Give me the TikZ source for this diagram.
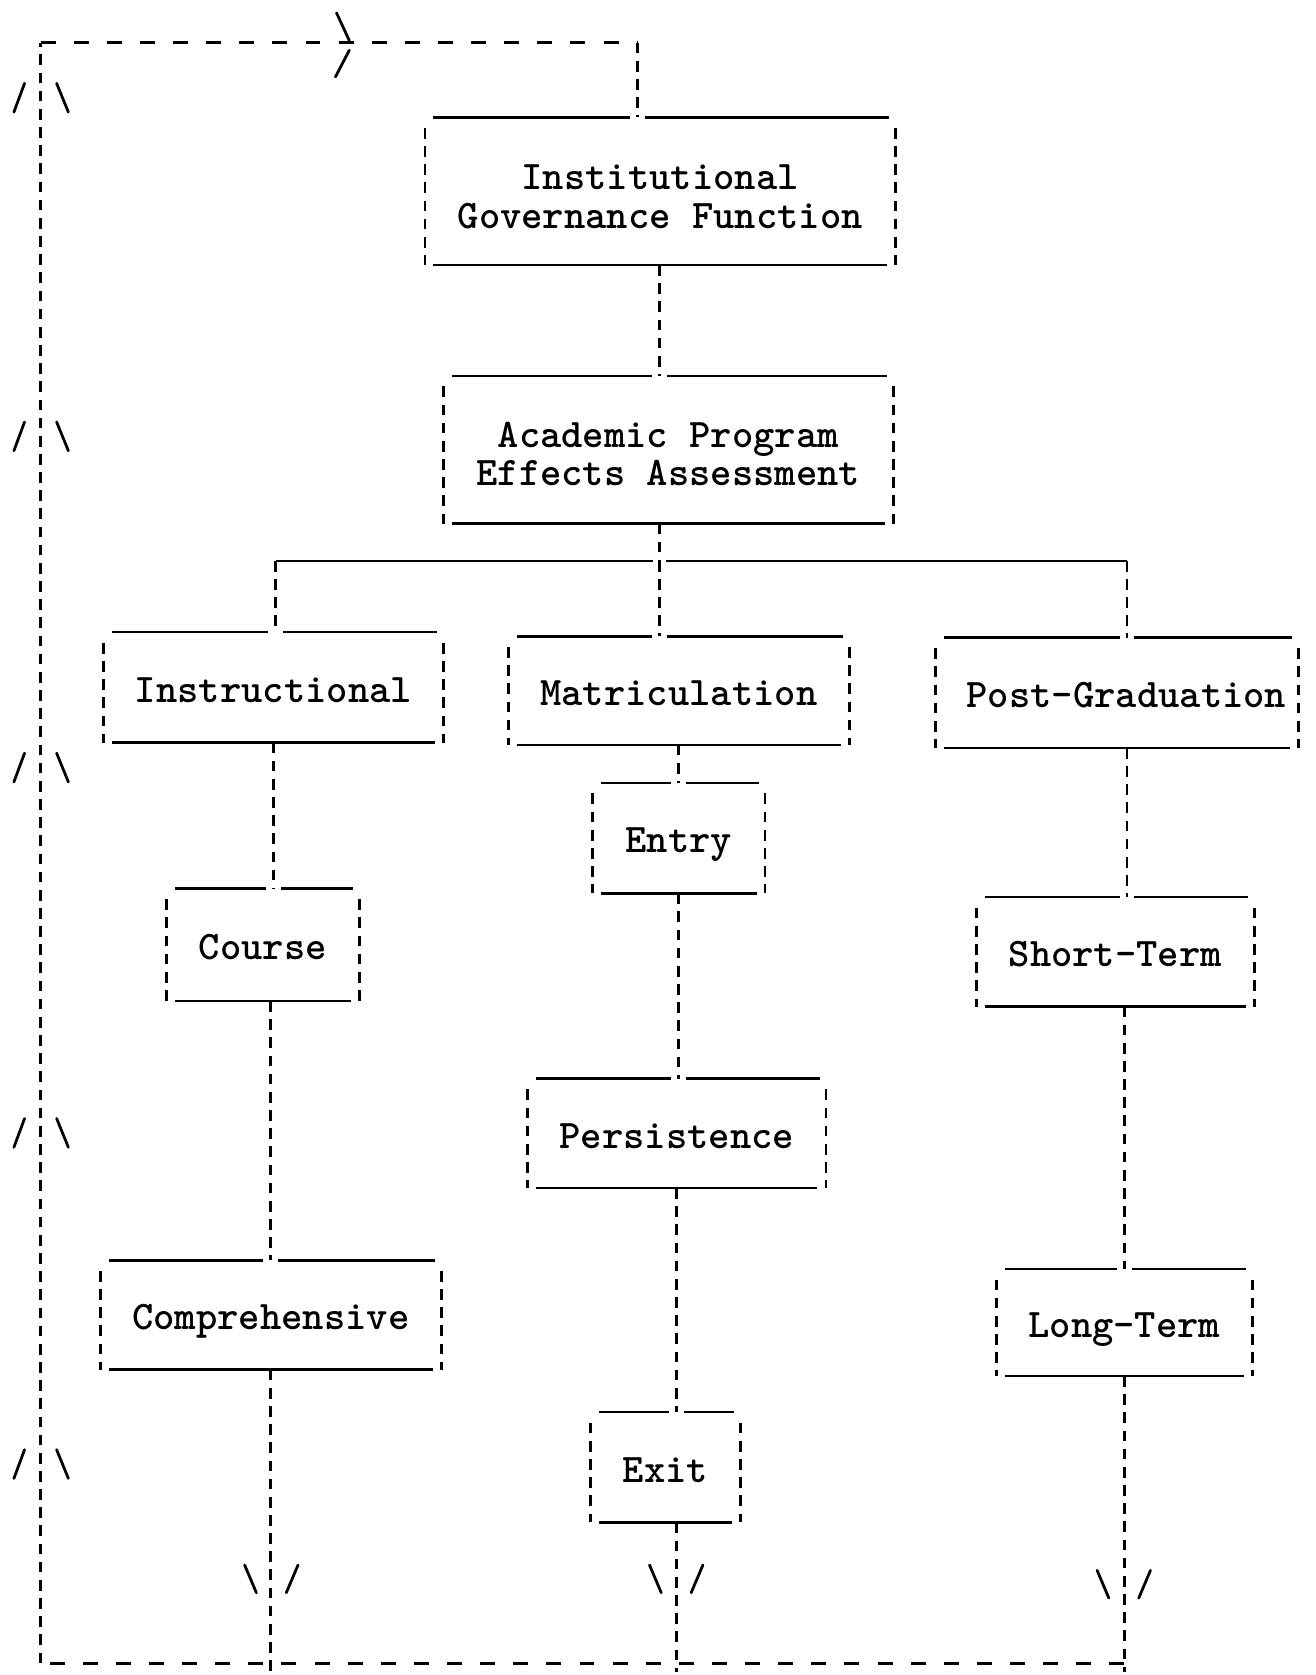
\documentclass[tikz,border=0pt]{standalone}
\usepackage{fontspec}
\newcommand\tbx[2]{%
  \coordinate (gap) at (#2,0);
  \draw[side] ([yshift=-10pt]#1.north west) -- (#1.south west);
  \draw[side] ([yshift=-10pt]#1.north east) -- (#1.south east);
  \draw[rule] ([xshift=8pt]#1.north west) -- ([xshift=-7pt]gap |- #1.north);
  \draw[rule] ([xshift=7pt]gap |- #1.north) -- ([xshift=-6pt]#1.north east);
  \draw[rule] ([xshift=8pt]#1.south west) -- ([xshift=-8pt]#1.south east);
}
\begin{document}
\begin{tikzpicture}[x=1pt,y=-1pt,
  every node/.style={font=\ttfamily\bfseries\fontsize{38}{36}\selectfont},
  bx/.style={draw=none, inner sep=0pt, align=center},
  one/.style={bx, text height=28pt, text depth=0pt},
  side/.style={line width=2.6pt, dash pattern=on 10pt off 7pt},
  rule/.style={line width=2.4pt},
  conn/.style={line width=2.6pt, dash pattern=on 10pt off 7pt},
  hconn/.style={line width=2.6pt, dash pattern=on 14pt off 17pt},
  tick/.style={line width=2.6pt, line cap=round}]
\useasboundingbox (0,0) rectangle (1231,1568);

% boxes
\node[bx, minimum width=440pt, minimum height=138pt] (gov) at (618,179) {\rule{0pt}{34pt}Institutional\\Governance Function};
\node[bx, minimum width=421pt, minimum height=138pt] (ape) at (625.5,421) {\rule{0pt}{32pt}Academic Program\\Effects Assessment};
\node[one, minimum width=318pt, minimum height=103pt] (ins) at (256,643.5) {Instructional};
\node[one, minimum width=319pt, minimum height=101pt] (mat) at (635.5,646.5) {Matriculation};
\node[one, minimum width=339pt, minimum height=103pt] (pg) at (1045.5,648.5) {\hspace*{18pt}Post-Graduation};
\node[one, minimum width=180pt, minimum height=105pt] (course) at (246,884.5) {Course};
\node[one, minimum width=319pt, minimum height=102pt] (comp) at (253.5,1231) {Comprehensive};
\node[one, minimum width=161pt, minimum height=103pt] (entry) at (635.5,784.5) {Entry};
\node[one, minimum width=279pt, minimum height=102pt] (pers) at (633.5,1061) {Persistence};
\node[one, minimum width=140pt, minimum height=103pt] (exit) at (623,1373.5) {Exit};
\node[one, minimum width=260pt, minimum height=102pt] (st) at (1044,891) {Short-Term};
\node[one, minimum width=239pt, minimum height=100pt] (lt) at (1052.5,1238) {Long-Term};

\tbx{gov}{597}
\tbx{ape}{617}
\tbx{ins}{258}
\tbx{mat}{617}
\tbx{pg}{1055}
\tbx{course}{256}
\tbx{comp}{253.5}
\tbx{entry}{635.5}
\tbx{pers}{635.5}
\tbx{exit}{633.5}
\tbx{st}{1055}
\tbx{lt}{1052.5}

% coordinates
\coordinate (bar) at (617,525);
\coordinate (barL) at (258,525);
\coordinate (barR) at (1055,525);
\coordinate (bot) at (0,1565);
\coordinate (fbBL) at (38,1557);
\coordinate (fbTL) at (38,40);
\coordinate (fbTR) at (597,40);

% connectors
\draw[conn] ([xshift=-1pt]gov.south) -- ([xshift=-8.5pt]ape.north);
\draw[conn] ([xshift=-8.5pt]ape.south) -- (bar);
\draw[rule] (barL) -- ([xshift=-6pt]bar);
\draw[rule] ([xshift=6pt]bar) -- (barR);
\draw[conn] (barL) -- (barL |- ins.north);
\draw[conn] (bar) -- (bar |- mat.north);
\draw[conn] (barR) -- (barR |- pg.north);

\draw[conn] (ins.south) -- (ins.south |- course.north);
\draw[conn] (comp.north |- course.south) -- (comp.north);
\draw[conn] (comp.south) -- (comp.south |- bot);

\draw[conn] (entry.north |- mat.south) -- (entry.north);
\draw[conn] (entry.south) -- (entry.south |- pers.north);
\draw[conn] (pers.south) -- (pers.south |- exit.north);
\draw[conn] (pers.south |- exit.south) -- (pers.south |- bot);

\draw[conn] (barR |- pg.south) -- (barR |- st.north);
\draw[conn] (lt.north |- st.south) -- (lt.north);
\draw[conn] (lt.south) -- (lt.south |- bot);

% feedback loop
\draw[hconn] (lt.south |- fbBL) -- (fbBL);
\draw[conn] (fbBL) -- (fbTL);
\draw[hconn] (fbTL) -- (fbTR);
\draw[conn] (fbTR) -- (fbTR |- gov.north);

% arrow marks
\foreach \yc in {91,408,718,1060,1370}{
  \draw[tick] (13,\yc+14) -- (23,\yc-13);
  \draw[tick] (53,\yc-13) -- (64,\yc+14);
}
\foreach \cx/\yt in {254/1465,633/1465,1052/1470}{
  \draw[tick] (\cx-25,\yt) -- (\cx-14,\yt+26);
  \draw[tick] (\cx+25,\yt) -- (\cx+14,\yt+26);
}
\draw[tick] (315,12) -- (327,38);
\draw[tick] (327,47) -- (314,72);
\end{tikzpicture}
\end{document}
